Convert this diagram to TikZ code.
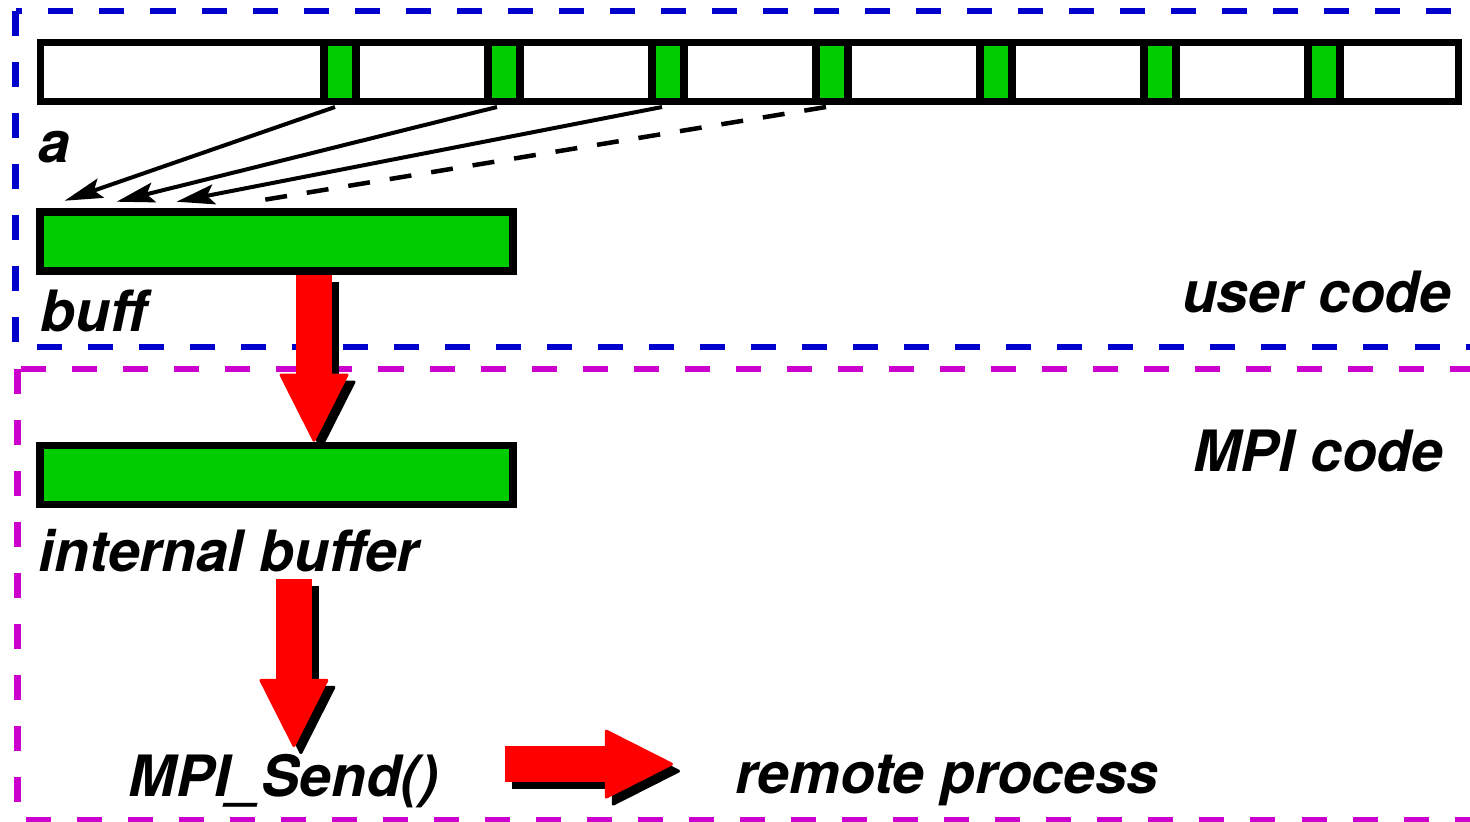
\documentclass[tikz,border=0pt]{standalone}
\usepackage{fontspec}
\setmainfont{TeX Gyre Heros}
\usetikzlibrary{positioning,arrows.meta,calc}
\definecolor{cellgreen}{RGB}{0,204,0}
\definecolor{userblue}{RGB}{0,0,204}
\definecolor{mpimagenta}{RGB}{204,0,204}
\tikzset{
  arraybox/.style={draw, line width=0.075cm, fill=white, minimum width=14.17cm, minimum height=0.585cm, inner sep=0pt},
  cellbox/.style={draw, line width=0.075cm, fill=cellgreen, minimum width=0.32cm, minimum height=0.585cm, inner sep=0pt},
  bufbox/.style={draw, line width=0.075cm, fill=cellgreen, minimum width=4.73cm, minimum height=0.59cm, inner sep=0pt},
  lbl/.style={font=\fontsize{16.2}{19}\selectfont\bfseries\itshape, inner sep=0pt},
  region/.style={dash pattern=on 0.25cm off 0.26cm, line width=0.065cm},
  gatherarrow/.style={line width=0.04cm, -{Stealth[length=0.38cm, width=0.2cm, inset=0.07cm]}},
  gatherdash/.style={line width=0.045cm, dash pattern=on 0.22cm off 0.2cm},
  bigarrow/.style={line width=0.36cm, -{Triangle[length=0.7cm, width=0.7cm, line width=0.03cm, round]}},
  bigshadow/.style={bigarrow, black, transform canvas={shift={(7,7)}}},
  bigred/.style={bigarrow, red}
}
\begin{document}
\begin{tikzpicture}[x=0.01cm, y=-0.01cm]
  \clip (0,0) rectangle (1470,822);
  % code regions
  \draw[region, userblue] (15.5,11) rectangle (1520,347);
  \draw[region, mpimagenta] (17.5,369) rectangle (1520,820);
  \node[lbl, anchor=base east] (user) at (1452,313) {user code};
  \node[lbl, anchor=base east] (mpi) at (1444,472) {MPI code};

  % strided array
  \node[arraybox] (arr) at (749.5,72) {};
  \foreach \i in {1,...,7}
    \node[cellbox] (c\i) at ({340+164*(\i-1)},72) {};
  \node[lbl, anchor=base west] (alab) at (38,163) {a};

  % buffers and labels
  \node[bufbox] (buff) at (276.5,241.5) {};
  \node[lbl, anchor=base west] (bufflab) at (40,332) {buff};
  \node[bufbox] (ibuf) at (276.5,475) {};
  \node[lbl, anchor=base west] (iblab) at (38,572) {internal buffer};
  \node[lbl, anchor=base west] (send) at (128,796) {MPI\_Send()};
  \node[lbl, anchor=base west] (remote) at (735,793) {remote process};

  % packing the elements
  \draw[gatherarrow] ($(c1.south)+(-5,2)$) -- ($(buff.north west)+(28.5,-7.5)$);
  \draw[gatherarrow] ($(c2.south)+(-7,2)$) -- ($(buff.north west)+(80.5,-6.5)$);
  \draw[gatherarrow] ($(c3.south)+(-6,2)$) -- ($(buff.north west)+(140.5,-6.5)$);
  \draw[gatherdash] ($(c4.south)+(-6,2)$) -- ($(buff.north west)+(228.5,-8.5)$);

  % copies
  \coordinate (ibout) at ($(iblab.south)+(65,6)$);
  \coordinate (sendout) at ($(send.east)+(65,-16.5)$);
  \draw[bigshadow] ([xshift=0.375cm]buff.south) -- ([xshift=0.375cm]ibuf.north);
  \draw[bigred] ([xshift=0.375cm]buff.south) -- ([xshift=0.375cm]ibuf.north);
  \draw[bigshadow] (ibout) -- ($(ibout |- send.north)+(0,-6)$);
  \draw[bigred] (ibout) -- ($(ibout |- send.north)+(0,-6)$);
  \draw[bigshadow] (sendout) -- ($(sendout -| remote.west)+(-62,0)$);
  \draw[bigred] (sendout) -- ($(sendout -| remote.west)+(-62,0)$);
\end{tikzpicture}
\end{document}
